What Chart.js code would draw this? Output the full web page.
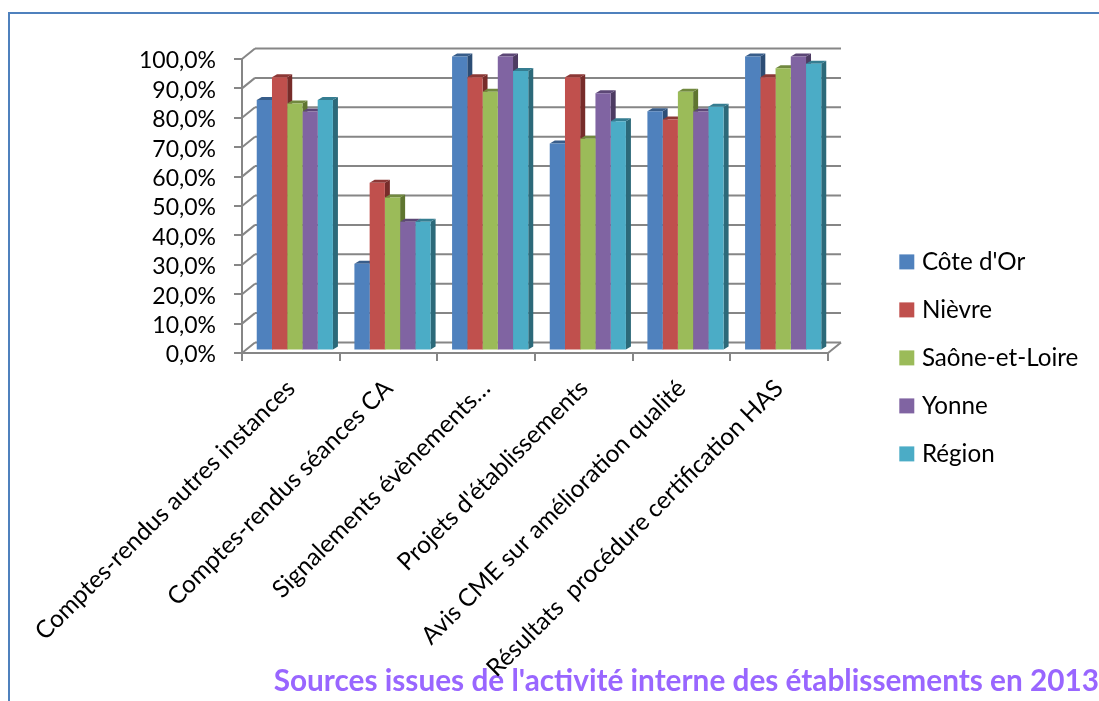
<!DOCTYPE html>
<html lang="fr">
<head>
<meta charset="utf-8">
<title>Sources issues de l'activité interne des établissements en 2013</title>
<script src="https://cdn.jsdelivr.net/npm/chart.js@4"></script>
<style>
  html, body { margin: 0; background: #fff; }
  #frame { position: absolute; left: 8px; top: 12px; right: 0; bottom: 0; border-top: 2px solid #4f81bd; border-left: 2px solid #4f81bd; }
  canvas { position: absolute; left: 0; top: 0; }
</style>
</head>
<body>
<div id="frame"></div>
<canvas id="myChart" width="1099" height="701"></canvas>
<script>
var categories = [
  "Comptes-rendus autres instances",
  "Comptes-rendus séances CA",
  "Signalements évènements…",
  "Projets d'établissements",
  "Avis CME sur amélioration qualité",
  "Résultats  procédure certification HAS"
];
var coteDor = [85.2, 29.5, 100, 70.4, 81.4, 100];
var nievre = [92.9, 57.1, 92.9, 92.9, 78.6, 92.9];
var saone = [84.0, 52.0, 88.0, 72.0, 88.0, 96.0];
var yonne = [81.3, 43.8, 100, 87.5, 81.3, 100];
var region = [85.2, 43.8, 95.1, 78.0, 82.9, 97.5];

var seriesNames = ["Côte d'Or", "Nièvre", "Saône-et-Loire", "Yonne", "Région"];
var seriesValues = [coteDor, nievre, saone, yonne, region];
var frontColors = ["#4f81bd", "#c0504d", "#9bbb59", "#8064a2", "#4bacc6"];
var topColors = ["#385d8a", "#8c3836", "#71893f", "#5c4776", "#357d91"];
var sideColors = ["#2c4d75", "#772c2a", "#5f7530", "#4d3b62", "#2c6979"];

var axisColor = "#868686";
var fontName = "Lato, Carlito, sans-serif";
var barDepth = { x: 5, y: 3 };
var wallDepth = { x: 13, y: 10.5 };
var barShift = { x: 4, y: -2.5 };

function line(ctx, x1, y1, x2, y2) {
  ctx.beginPath();
  ctx.moveTo(x1, y1);
  ctx.lineTo(x2, y2);
  ctx.stroke();
}

function poly(ctx, pts, color) {
  ctx.fillStyle = color;
  ctx.beginPath();
  ctx.moveTo(pts[0], pts[1]);
  for (var i = 2; i < pts.length; i += 2) {
    ctx.lineTo(pts[i], pts[i + 1]);
  }
  ctx.closePath();
  ctx.fill();
}

// back wall, floor and the slanted lines joining them to the front axis
var wallPlugin = {
  id: "wall",
  beforeDatasetsDraw: function (chart) {
    var ctx = chart.ctx;
    var area = chart.chartArea;
    var y = chart.scales.y;
    ctx.save();
    ctx.strokeStyle = axisColor;
    ctx.lineWidth = 2;
    y.ticks.forEach(function (t) {
      var py = y.getPixelForValue(t.value);
      line(ctx, area.left, py, area.left + wallDepth.x, py - wallDepth.y);
      line(ctx, area.left + wallDepth.x, py - wallDepth.y, area.right + wallDepth.x, py - wallDepth.y);
    });
    line(ctx, area.right, area.bottom, area.right + wallDepth.x, area.bottom - wallDepth.y);
    ctx.restore();
  }
};

// side and top faces go first, the library then paints the front faces over them
var barsPlugin = {
  id: "bars3d",
  beforeDatasetsDraw: function (chart) {
    var ctx = chart.ctx;
    ctx.save();
    ctx.translate(barShift.x, barShift.y);
    var dx = barDepth.x, dy = barDepth.y;
    categories.forEach(function (c, i) {
      seriesNames.forEach(function (s, d) {
        var bar = chart.getDatasetMeta(d).data[i];
        var left = bar.x - bar.width / 2;
        var right = bar.x + bar.width / 2;
        poly(ctx, [right, bar.y, right + dx, bar.y - dy, right + dx, bar.base - dy, right, bar.base], sideColors[d]);
        poly(ctx, [left, bar.y, left + dx, bar.y - dy, right + dx, bar.y - dy, right, bar.y], topColors[d]);
      });
    });
  },
  afterDatasetsDraw: function (chart) {
    chart.ctx.restore();
  }
};

// legend and caption sit outside the plot, in the free space right and below
var placePlugin = {
  id: "place",
  afterLayout: function (chart) {
    var legend = chart.legend;
    legend.left = 880;
    legend.top = 226;
    legend.right = 1099;
    legend.bottom = 701;
    var title = chart.titleBlock;
    title.left = 200;
    title.right = 1099;
    // long rotated labels run down behind the caption, keep them unclipped
    chart.scales.x.bottom = 701;
  }
};

function drawdata() {
  var datasets = seriesNames.map(function (name, i) {
    return {
      label: name,
      data: seriesValues[i],
      backgroundColor: frontColors[i],
      borderWidth: 0,
      clip: false,
      pointStyle: "rect",
      categoryPercentage: 0.78,
      barPercentage: 1
    };
  });

  new Chart(document.getElementById("myChart"), {
    type: "bar",
    data: { labels: categories, datasets: datasets },
    plugins: [wallPlugin, barsPlugin, placePlugin],
    options: {
      responsive: false,
      animation: false,
      layout: { padding: { left: 0, top: 59, right: 271, bottom: 0 } },
      scales: {
        x: {
          afterFit: function (scale) { scale.height = 701 - 353 - 38; },
          border: { color: axisColor, width: 2 },
          grid: { drawOnChartArea: false, color: axisColor, lineWidth: 2, tickLength: 8 },
          ticks: {
            color: "#000",
            font: { family: fontName, size: 24.4 },
            minRotation: 45,
            maxRotation: 45,
            autoSkip: false,
            padding: 13
          }
        },
        y: {
          min: 0,
          max: 100,
          afterFit: function (scale) { scale.width = 242; },
          border: { color: axisColor, width: 2 },
          grid: { drawOnChartArea: false, color: axisColor, lineWidth: 2, tickLength: 8 },
          ticks: {
            stepSize: 10,
            autoSkip: false,
            color: "#000",
            padding: 18,
            labelOffset: 2,
            font: { family: fontName, size: 23 },
            callback: function (value) {
              return value.toFixed(1).replace(".", ",") + "%";
            }
          }
        }
      },
      plugins: {
        tooltip: { enabled: false },
        title: {
          display: true,
          position: "bottom",
          align: "end",
          text: "Sources issues de l'activité interne des établissements en 2013",
          color: "#9966ff",
          font: { family: fontName, size: 29.75, weight: "bold", lineHeight: "36px" },
          padding: { top: 0, bottom: 2 }
        },
        legend: {
          position: "chartArea",
          align: "start",
          labels: {
            color: "#000",
            font: { family: fontName, size: 24.2 },
            usePointStyle: true,
            boxWidth: 6,
            boxHeight: 15,
            padding: 23.8
          }
        }
      }
    }
  });
}

drawdata();
</script>
</body>
</html>
